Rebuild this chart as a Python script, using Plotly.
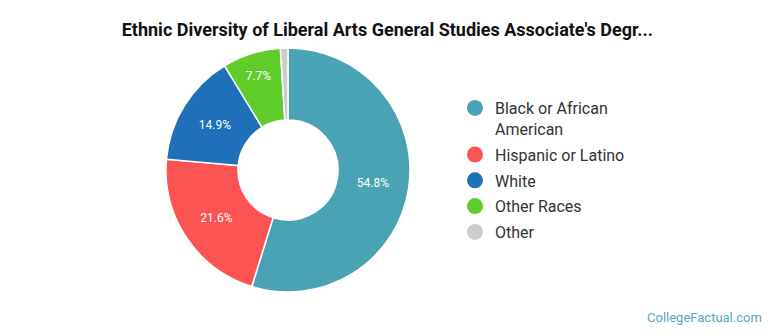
import plotly.graph_objects as go

# Share of degrees by ethnic group
groups = ["Black or African American", "Hispanic or Latino", "White", "Other Races", "Other"]
legend_labels = ["Black or African<br>American", "Hispanic or Latino", "White", "Other Races", "Other"]
shares = [54.8, 21.6, 14.9, 7.7, 1.0]
colors = ["#4aa3b5", "#fc5353", "#1f70b8", "#5fcc2a", "#cccccc"]

W, H = 770, 335
cx, cy, r = 288, 170, 122

fig = go.Figure()
fig.add_trace(go.Pie(
    labels=groups,
    values=shares,
    hole=0.41,
    sort=False,
    direction="clockwise",
    rotation=0,
    marker=dict(colors=colors, line=dict(color="white", width=1.5)),
    texttemplate=[f"{v:.1f}%" if v >= 5 else "" for v in shares],
    textposition="inside",
    insidetextorientation="horizontal",
    textfont=dict(family="Roboto", size=12, color="white"),
    showlegend=False,
    domain=dict(x=[(cx - r) / W, (cx + r) / W], y=[(H - cy - r) / H, (H - cy + r) / H]),
))

# Circle legend entries
for i, (lab, col) in enumerate(zip(legend_labels, colors)):
    fig.add_trace(go.Scatter(
        x=[None], y=[None], mode="markers", name=lab, legendgroup=f"g{i}",
        marker=dict(symbol="circle", size=18, color=col),
    ))

fig.update_layout(
    width=W, height=H,
    margin=dict(l=0, r=0, t=0, b=0),
    paper_bgcolor="white", plot_bgcolor="white",
    xaxis=dict(visible=False), yaxis=dict(visible=False),
    title=dict(
        text="<b>Ethnic Diversity of Liberal Arts General Studies Associate's Degr...</b>",
        x=0.503, xanchor="center", y=1 - 30 / H, yanchor="middle",
        font=dict(family="Roboto", size=18, color="#111111"),
    ),
    legend=dict(
        x=455 / W, xanchor="left", y=1 - 91 / H, yanchor="top",
        font=dict(family="Roboto", size=16, color="#333333"),
        itemsizing="trace", traceorder="grouped", tracegroupgap=2,
        valign="top",
        bgcolor="rgba(0,0,0,0)",
    ),
    annotations=[dict(
        text="CollegeFactual.com", x=1 - 6 / W, y=8 / H, xref="paper", yref="paper",
        xanchor="right", yanchor="bottom", showarrow=False,
        font=dict(family="Roboto", size=13, color="#5aa5c0"),
    )],
)

fig.write_html("out.html")
